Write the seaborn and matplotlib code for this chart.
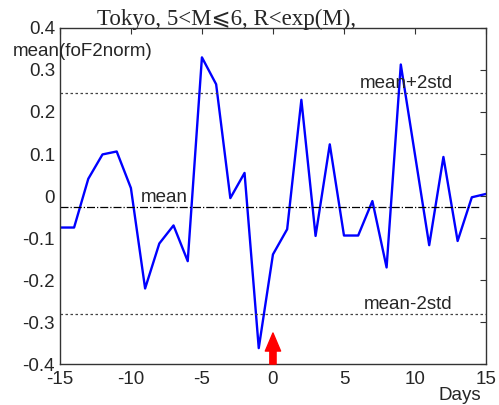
import numpy as np
import pandas as pd
import matplotlib
matplotlib.use("Agg")
import matplotlib.pyplot as plt
import seaborn as sns

# values
days = list(range(-15, 16))
vals = [-0.075, -0.075, 0.041, 0.099, 0.106, 0.019, -0.220, -0.113, -0.070, -0.155,
        0.330, 0.266, -0.005, 0.055, -0.362, -0.139, -0.079, 0.229, -0.095, 0.123,
        -0.094, -0.094, -0.012, -0.170, 0.313, 0.098, -0.117, 0.093, -0.107, -0.003, 0.005]
mean_val = -0.026
upper = 0.245
lower = -0.280
xticks = [-15, -10, -5, 0, 5, 10, 15]
yticks = [-0.4, -0.3, -0.2, -0.1, 0, 0.1, 0.2, 0.3, 0.4]
ytick_labels = ["-0.4", "-0.3", "-0.2", "-0.1", "0", "0.1", "0.2", "0.3", "0.4"]

sns.set_style("white")
plt.rcParams['font.family'] = ['Liberation Sans', 'DejaVu Sans']
plt.rcParams['axes.unicode_minus'] = False

df = pd.DataFrame({"day": days, "val": vals})

fig = plt.figure(figsize=(4.99, 4.05), dpi=100)
ax = fig.add_axes([0.120, 0.101, 0.854, 0.830])

sns.lineplot(data=df, x="day", y="val", color="#0000ff", linewidth=1.7, ax=ax)

ax.axhline(upper, color="#444444", linestyle=(0, (2, 2)), linewidth=0.9)
ax.axhline(lower, color="#444444", linestyle=(0, (2, 2)), linewidth=0.9)
ax.plot([-15, 14.5], [mean_val, mean_val], color="black", linestyle="-.", linewidth=0.9)

ax.text(-9.3, mean_val + 0.002, "mean", fontsize=13.5, ha="left", va="bottom")
ax.text(6.1, upper + 0.002, "mean+2std", fontsize=13.5, ha="left", va="bottom")
ax.text(6.4, lower + 0.002, "mean-2std", fontsize=13.5, ha="left", va="bottom")

# red arrow at day 0
ax.annotate("", xy=(0, -0.326), xytext=(0, -0.4),
            arrowprops=dict(arrowstyle="simple,head_width=1.1,head_length=1.3,tail_width=0.45",
                            color="#ff0000", shrinkA=0, shrinkB=0))

ax.set_xlim(-15, 15)
ax.set_ylim(-0.4, 0.4)
ax.set_xticks(xticks)
ax.set_yticks(yticks)
ax.set_yticklabels(ytick_labels)
ax.tick_params(direction="in", length=4, top=True, right=True, labelsize=13.5,
               color="#333333", width=0.8)
ax.tick_params(axis="x", pad=5)
ax.set_xlabel("")
ax.set_ylabel("")
for s in ax.spines.values():
    s.set_color("#333333")
    s.set_linewidth(1.0)

fig.text(13 / 499, 1 - 52 / 405, "mean(foF2norm)", fontsize=13.5, ha="left", va="center")
fig.text(438 / 499, 1 - 395 / 405, "Days", fontsize=13.5, ha="left", va="center")
fig.text(97 / 499, 1 - 25 / 405, "Tokyo, 5<M\u2a7d6, R<exp(M),", fontsize=16.5,
         ha="left", va="baseline",
         family=["Liberation Serif", "DejaVu Serif", "DejaVu Sans", "Noto Sans", "Noto Sans CJK JP"])

fig.savefig("out.png", dpi=100)
